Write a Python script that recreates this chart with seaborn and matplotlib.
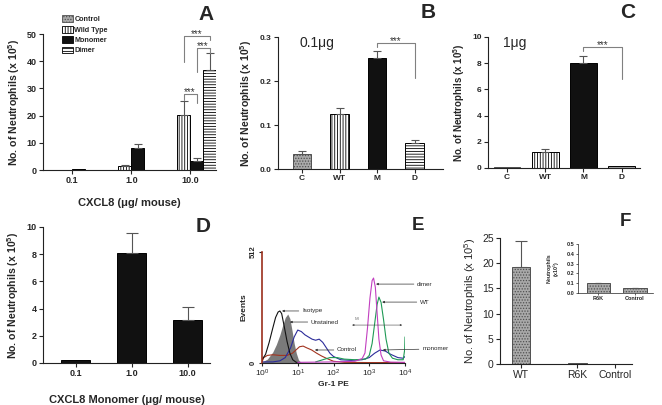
import numpy as np
import pandas as pd
import matplotlib
matplotlib.use("Agg")
import matplotlib.pyplot as plt
import seaborn as sns
from matplotlib.patches import Patch

# ---------------- data ----------------
# Panel A : neutrophils vs CXCL8 dose
a_doses = ["0.1", "1.0", "10.0"]
a_groups = ["Control", "Wild Type", "Monomer", "Dimer"]
a_control = [0.03, 0.05, 0.03]
a_control_err = [0.0, 0.0, 0.0]
a_wt = [0.12, 1.3, 20.3]
a_wt_err = [0.0, 0.5, 5.0]
a_mono = [0.25, 8.1, 3.2]
a_mono_err = [0.0, 1.6, 1.1]
a_dimer = [0.06, 0.12, 36.6]
a_dimer_err = [0.0, 0.0, 6.5]

# Panel B : 0.1 ug
b_cats = ["C", "WT", "M", "D"]
b_vals = [0.034, 0.124, 0.253, 0.058]
b_err = [0.007, 0.015, 0.016, 0.007]

# Panel C : 1 ug
c_cats = ["C", "WT", "M", "D"]
c_vals = [0.05, 1.24, 8.0, 0.15]
c_err = [0.0, 0.19, 0.55, 0.0]

# Panel D : monomer dose response
d_doses = ["0.1", "1.0", "10.0"]
d_vals = [0.22, 8.07, 3.16]
d_err = [0.0, 1.5, 0.95]

# Panel E : flow cytometry histograms (log10 Gr-1 PE, events)
iso_logx = [0.0, 0.1, 0.2, 0.3, 0.38, 0.45, 0.5, 0.55, 0.62, 0.7, 0.78, 0.86, 0.95, 1.05]
iso_ev = [15, 40, 95, 160, 210, 235, 240, 228, 170, 100, 45, 15, 4, 0]
unst_logx = [0.0, 0.15, 0.3, 0.4, 0.5, 0.58, 0.65, 0.72, 0.78, 0.84, 0.9, 0.96, 1.02, 1.1]
unst_ev = [5, 18, 50, 85, 130, 175, 210, 226, 205, 150, 90, 45, 15, 0]
mono_logx = [0.0, 0.3, 0.5, 0.65, 0.8, 0.9, 1.0, 1.1, 1.2, 1.3, 1.4, 1.5, 1.6, 1.7,
             1.8, 1.9, 2.0, 2.2, 2.5, 2.8, 3.0, 3.15, 3.3, 3.45, 3.6, 3.8, 3.95, 4.0]
mono_ev = [5, 5, 10, 25, 70, 120, 152, 145, 130, 120, 110, 105, 110, 95,
           70, 45, 30, 15, 12, 15, 25, 45, 60, 55, 40, 25, 22, 30]
ctrl_logx = [0.0, 0.05, 0.15, 0.3, 0.5, 0.7, 0.85, 0.95, 1.05, 1.15, 1.25, 1.39,
             1.53, 1.67, 1.81, 2.0, 2.3, 3.0, 4.0]
ctrl_ev = [5, 25, 35, 38, 35, 35, 45, 60, 75, 78, 70, 60, 45, 32, 21, 8, 3, 2, 2]
wt_logx = [1.5, 1.7, 1.9, 2.1, 2.3, 2.6, 2.9, 3.0, 3.08, 3.15, 3.22, 3.27, 3.33,
           3.4, 3.47, 3.55, 3.65, 3.8, 3.95, 3.99, 4.0]
wt_ev = [5, 15, 25, 25, 18, 15, 18, 35, 90, 180, 270, 304, 280, 200, 110, 45,
         22, 15, 15, 60, 120]
dim_logx = [1.0, 2.0, 2.6, 2.8, 2.88, 2.95, 3.02, 3.08, 3.12, 3.17, 3.22, 3.27,
            3.33, 3.4, 3.6, 4.0]
dim_ev = [3, 5, 8, 20, 46, 160, 300, 380, 392, 350, 230, 110, 37, 10, 4, 3]

# Panel F : WT vs R6K
f_cats = ["WT", "R6K", "Control"]
f_vals = [19.3, 0.1, 0.05]
f_err = [5.2, 0.0, 0.0]
fi_cats = ["R6K", "Control"]
fi_vals = [0.1, 0.05]
fi_err = [0.005, 0.005]

# ---------------- style ----------------
sns.set_style("ticks")
plt.rcParams["font.family"] = ["Liberation Sans", "DejaVu Sans"]
plt.rcParams.update({
    "mathtext.fontset": "custom",
    "mathtext.rm": "Liberation Sans",
    "mathtext.bf": "Liberation Sans:bold",
    "mathtext.it": "Liberation Sans:italic",
    "hatch.linewidth": 0.6,
    "axes.linewidth": 0.8,
    "xtick.major.width": 0.8, "ytick.major.width": 0.8,
    "xtick.major.size": 3, "ytick.major.size": 3,
    "xtick.direction": "out", "ytick.direction": "out",
    "axes.edgecolor": "#222222",
})

W, H = 662, 405
fig = plt.figure(figsize=(W / 100, H / 100), dpi=100)


def px_axes(x0, y0, x1, y1):
    return fig.add_axes([x0 / W, 1 - y1 / H, (x1 - x0) / W, (y1 - y0) / H])


def ftext(x, y, s, **kw):
    fig.text(x / W, 1 - y / H, s, **kw)


STIP = dict(fc="#a9a9a9", ec="#505050", hatch="......")
VERT = dict(fc="white", ec="black", hatch="||||||")
BLACK = dict(fc="#111111", ec="black", hatch="")
HORZ = dict(fc="white", ec="black", hatch="------")


def style_patch(p, st):
    p.set_facecolor(st["fc"])
    p.set_edgecolor(st["ec"])
    p.set_hatch(st["hatch"])
    p.set_linewidth(0.7)


def upper_err(ax, patches, vals, errs, cap=3):
    xs = np.array([p.get_x() + p.get_width() / 2 for p in patches])
    v = np.asarray(vals, float)
    e = np.asarray(errs, float)
    m = e > 0
    if m.any():
        ax.errorbar(xs[m], v[m], yerr=[np.zeros(m.sum()), e[m]], fmt="none",
                    ecolor="#555555", elinewidth=0.8, capsize=cap, capthick=0.8, zorder=1)
    return xs


def simple_bars(ax, cats, vals, errs, styles, width, cap=3, **kw):
    df = pd.DataFrame({"cat": cats, "val": vals})
    sns.barplot(data=df, x="cat", y="val", order=cats, hue="cat", hue_order=cats,
                palette=["#888888"] * len(cats), width=width, saturation=1,
                legend=False, ax=ax, **kw)
    patches = list(ax.patches)
    for p, st in zip(patches, styles):
        style_patch(p, st)
    return upper_err(ax, patches, vals, errs, cap)


def bracket(ax, x1, x2, ytop, yl, yr, fs=7):
    ax.plot([x1, x1, x2, x2], [yl, ytop, ytop, yr], color="#808080", lw=0.8,
            clip_on=False, zorder=3)
    ax.annotate("***", xy=((x1 + x2) / 2, ytop), xytext=(0, 1.5),
                textcoords="offset points", ha="center", va="center",
                fontsize=fs, color="#333333", annotation_clip=False)


def finish(ax, fs, bold=True):
    sns.despine(ax=ax)
    ax.tick_params(labelsize=fs, pad=1.5)
    for lab in ax.get_xticklabels() + ax.get_yticklabels():
        lab.set_fontweight("bold" if bold else "normal")
    ax.set_xlabel(ax.get_xlabel())


YLAB_B = r"No. of Neutrophils (x 10$^{\mathbf{5}}$)"
YLAB_R = r"No. of Neutrophils (x 10$^{5}$)"

# ---------------- Panel A ----------------
axA = px_axes(43, 34, 216, 170)
dfA = pd.DataFrame({
    "dose": a_doses * 4,
    "group": np.repeat(a_groups, len(a_doses)),
    "val": a_control + a_wt + a_mono + a_dimer,
})
sns.barplot(data=dfA, x="dose", y="val", hue="group", order=a_doses, hue_order=a_groups,
            palette=["#888888"] * 4, width=0.88, saturation=1, legend=False, ax=axA)
a_styles = [STIP, VERT, BLACK, HORZ]
a_errs = [a_control_err, a_wt_err, a_mono_err, a_dimer_err]
a_vals = [a_control, a_wt, a_mono, a_dimer]
centers = {}
for g, cont, st, v, e in zip(a_groups, axA.containers, a_styles, a_vals, a_errs):
    for p in cont.patches:
        style_patch(p, st)
    centers[g] = upper_err(axA, list(cont.patches), v, e, cap=2.8)
axA.set_ylim(0, 50)
axA.set_xlim(-0.5, 2.44)
axA.set_yticks([0, 10, 20, 30, 40, 50])
axA.set_ylabel(YLAB_B, fontsize=7.6, fontweight="bold", labelpad=3)
axA.set_xlabel("CXCL8 (μg/ mouse)", fontsize=8, fontweight="bold", labelpad=9)
finish(axA, 6.5)
xw, xm, xd = centers["Wild Type"][2], centers["Monomer"][2], centers["Dimer"][2]
bracket(axA, xw, xd, 49.3, 39.7, 47.8)
bracket(axA, xm, xd, 44.9, 36.0, 43.0)
bracket(axA, xw, xm, 27.9, 25.8, 24.6)
handles = [Patch(facecolor=s["fc"], edgecolor=s["ec"], hatch=s["hatch"], lw=0.6)
           for s in a_styles]
axA.legend(handles, a_groups, loc="upper left", bbox_to_anchor=(0.09, 1.165),
           frameon=False, borderpad=0, handlelength=1.5, handleheight=1.1,
           handletextpad=0.2, labelspacing=0.35, prop=dict(size=5.2, weight="bold"))

# ---------------- Panel B ----------------
axB = px_axes(278, 37, 443, 169)
xb = simple_bars(axB, b_cats, b_vals, b_err, [STIP, VERT, BLACK, HORZ], 0.5, cap=3.2)
axB.set_ylim(0, 0.3)
axB.set_xlim(-0.64, 3.76)
axB.set_yticks([0.0, 0.1, 0.2, 0.3])
axB.set_yticklabels(["0.0", "0.1", "0.2", "0.3"])
axB.set_ylabel(YLAB_B, fontsize=7.6, fontweight="bold", labelpad=4)
axB.set_xlabel("")
finish(axB, 6)
bracket(axB, xb[2], xb[3], 0.286, 0.278, 0.206)
ftext(300, 43, "0.1μg", fontsize=10, ha="left", va="center")

# ---------------- Panel C ----------------
axC = px_axes(488, 37, 640, 168)
xc = simple_bars(axC, c_cats, c_vals, c_err, [STIP, VERT, BLACK, HORZ], 0.7, cap=3.2)
axC.set_ylim(0, 10)
axC.set_xlim(-0.5, 3.48)
axC.set_yticks([0, 2, 4, 6, 8, 10])
axC.set_ylabel(YLAB_B, fontsize=7, fontweight="bold", labelpad=4)
axC.set_xlabel("")
finish(axC, 6)
bracket(axC, xc[2], xc[3], 9.2, 8.95, 6.77)
ftext(503, 43, "1μg", fontsize=10, ha="left", va="center")

# ---------------- Panel D ----------------
axD = px_axes(43, 227, 210, 363)
simple_bars(axD, d_doses, d_vals, d_err, [BLACK] * 3, 0.52, cap=4.5)
axD.set_ylim(0, 10)
axD.set_xlim(-0.58, 2.4)
axD.set_yticks([0, 2, 4, 6, 8, 10])
axD.set_ylabel(YLAB_B, fontsize=7.6, fontweight="bold", labelpad=4)
axD.set_xlabel("CXCL8 Monomer (μg/ mouse)", fontsize=8, fontweight="bold", labelpad=12)
finish(axD, 6.5)

# ---------------- Panel E ----------------
axE = px_axes(262, 252, 405, 363)
axE.set_xscale("log")
axE.fill_between(10 ** np.asarray(unst_logx), unst_ev, color="#7a7a7a", lw=0, zorder=1)
curves = [
    (ctrl_logx, ctrl_ev, "#a3341f"),
    (mono_logx, mono_ev, "#2c2c9a"),
    (iso_logx, iso_ev, "#111111"),
    (wt_logx, wt_ev, "#1f9a55"),
    (dim_logx, dim_ev, "#c23fc0"),
]
for lx, ev, col in curves:
    sns.lineplot(x=10 ** np.asarray(lx), y=ev, color=col, lw=0.8, ax=axE,
                 estimator=None, sort=False)
axE.set_xlim(1, 1e4)
axE.set_ylim(0, 512)
axE.set_xticks([1, 10, 100, 1000, 10000])
axE.set_xticklabels([r"$10^{0}$", r"$10^{1}$", r"$10^{2}$", r"$10^{3}$", r"$10^{4}$"])
axE.xaxis.set_minor_locator(matplotlib.ticker.NullLocator())
axE.set_yticks([0, 512])
axE.set_yticklabels(["0", "512"], rotation=90, va="center")
sns.despine(ax=axE)
axE.spines["left"].set_color("#9b2f1c")
axE.spines["left"].set_linewidth(1.2)
axE.tick_params(labelsize=6, pad=1.5, length=2)
for lab in axE.get_yticklabels():
    lab.set_fontweight("bold")
    lab.set_fontsize(5.5)
axE.set_ylabel("Events", fontsize=6, fontweight="bold", labelpad=2)
axE.set_xlabel("Gr-1 PE", fontsize=6, fontweight="bold", labelpad=1)
arrow = dict(arrowstyle="-|>", color="#333333", lw=0.5, mutation_scale=3,
             shrinkA=0, shrinkB=0)
ann = [
    ("Isotype", 0.56, 240, 1.12, 240),
    ("Unstained", 0.78, 189, 1.37, 189),
    ("Control", 1.48, 60, 2.10, 60),
    ("dimer", 3.19, 364, 4.34, 364),
    ("WT", 3.36, 281, 4.42, 281),
    ("monomer", 3.38, 60, 4.48, 65),
]
for s, lx, ev, tx, ty in ann:
    axE.annotate(s, xy=(10 ** lx, ev), xytext=(10 ** tx, ty), ha="left", va="center",
                 fontsize=4.5, arrowprops=arrow, annotation_clip=False)
axE.annotate("", xy=(10 ** 2.52, 175), xytext=(10 ** 3.92, 175),
             arrowprops=dict(arrowstyle="<|-|>", color="#444444", lw=0.4,
                             mutation_scale=2.5, shrinkA=0, shrinkB=0))
axE.text(10 ** 2.66, 203, "MI", fontsize=3.2, color="#777777", ha="center", va="center")

# ---------------- Panel F ----------------
axF = px_axes(500, 238, 632, 364)
f_pos = np.array([0.0, 1.5, 2.5])
dfF = pd.DataFrame({"pos": f_pos, "val": f_vals})
sns.barplot(data=dfF, x="pos", y="val", native_scale=True, color="#888888",
            width=0.5, saturation=1, ax=axF)
for p in axF.patches:
    style_patch(p, STIP)
upper_err(axF, list(axF.patches), f_vals, f_err, cap=4.5)
axF.set_ylim(0, 25)
axF.set_xlim(-0.56, 2.96)
axF.set_yticks([0, 5, 10, 15, 20, 25])
axF.set_xticks(f_pos)
axF.set_xticklabels(f_cats)
axF.set_ylabel(YLAB_R, fontsize=8, labelpad=3)
axF.set_xlabel("")
finish(axF, 7.5, bold=False)

axI = px_axes(578, 244, 653, 293)
simple_bars(axI, fi_cats, fi_vals, fi_err, [STIP, STIP], 0.65, cap=2)
axI.set_ylim(0, 0.5)
axI.set_xlim(-0.56, 1.5)
axI.set_yticks([0.0, 0.1, 0.2, 0.3, 0.4, 0.5])
axI.set_yticklabels(["0.0", "0.1", "0.2", "0.3", "0.4", "0.5"])
axI.set_ylabel("Neutrophils\n(x10$^{5}$)", fontsize=3.8, fontweight="bold", labelpad=3,
               linespacing=1.1)
axI.set_xlabel("")
finish(axI, 4)
axI.tick_params(length=1.5, width=0.5, pad=1)
for s in ("left", "bottom"):
    axI.spines[s].set_linewidth(0.5)

# ---------------- panel letters ----------------
for s, x, y, fs in [("A", 206, 15, 15), ("B", 428, 13, 15), ("C", 628, 12, 15),
                    ("D", 203, 227, 15), ("E", 418, 225, 13.5), ("F", 625, 222, 13.5)]:
    ftext(x, y, s, fontsize=fs, fontweight="bold", ha="center", va="center")

fig.savefig("out.png", dpi=100)
